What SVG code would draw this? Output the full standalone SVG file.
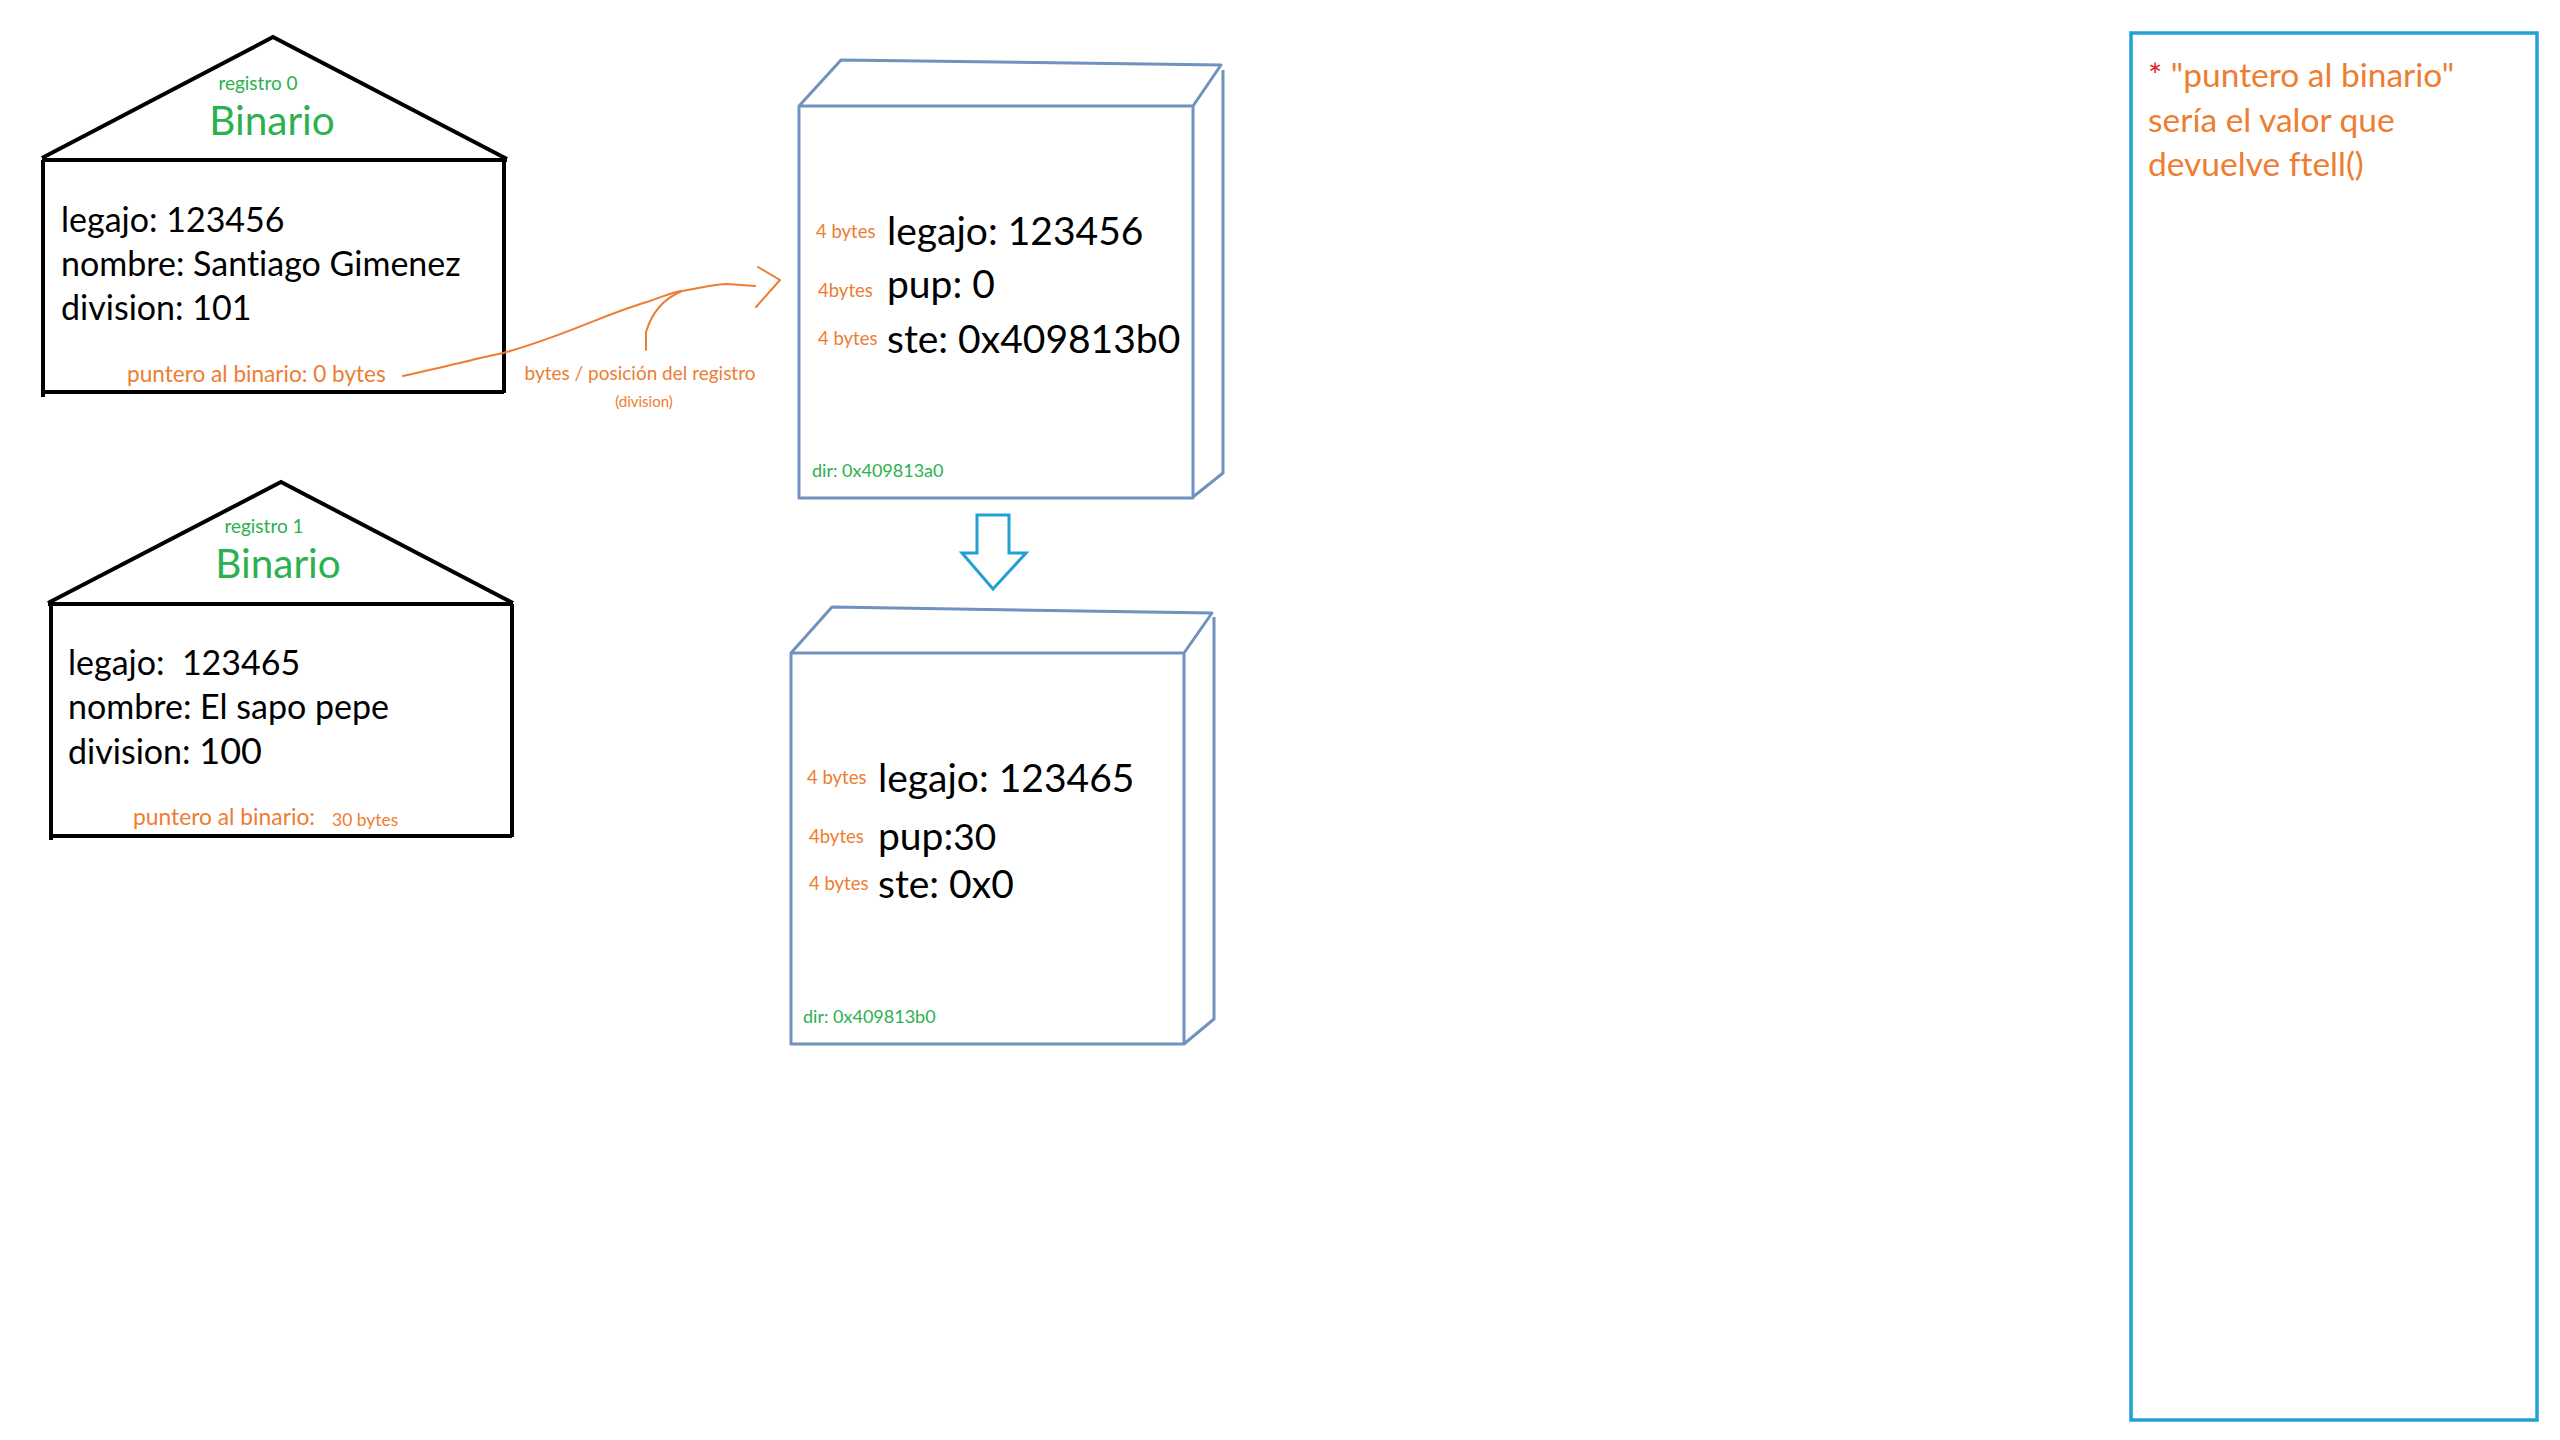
<svg xmlns="http://www.w3.org/2000/svg" width="2560" height="1440" viewBox="0 0 2560 1440">
<style>
  text { font-family: Lato, "Open Sans", "Liberation Sans", sans-serif; font-variant-ligatures: none; }
  .house { fill: none; stroke: #000; stroke-width: 4; stroke-linejoin: miter; }
  .cube { fill: none; stroke: #7092BE; stroke-width: 3; stroke-linejoin: round; }
  .body { font-size: 34px; fill: #000; }
  .big { font-size: 39px; fill: #000; }
  .grn { fill: #2DB04F; }
  .org { fill: #ED7D31; }
  .tag { font-size: 18.5px; fill: #ED7D31; }
  .dir { font-size: 18px; fill: #2DB04F; }
  .pre { white-space: pre; }
  .conn { fill: none; stroke: #ED7D31; stroke-width: 2; stroke-linecap: round; stroke-linejoin: round; }
</style>
<rect width="2560" height="1440" fill="#fff"/>

<g id="registro0">
  <path class="house" d="M42,158 L273,37 L507,159 M42,160 L507,160 M43,160 L43,397 M504,160 L504,393 M43,392 L504,392"/>
  <text class="grn" x="258" y="90" font-size="19" text-anchor="middle">registro 0</text>
  <text class="grn" x="272" y="135" font-size="40.5" text-anchor="middle">Binario</text>
  <text class="body" x="61" y="232">legajo: 123456</text>
  <text class="body" x="61" y="276">nombre: Santiago Gimenez</text>
  <text class="body" x="61" y="320">division: 101</text>
  <text class="org" x="127" y="382" font-size="22.6">puntero al binario: 0 bytes</text>
</g>

<g id="registro1">
  <path class="house" d="M48,603 L281,482 L513,603 M48,604 L513,604 M51,604 L51,840 M512,604 L512,837 M51,836 L512,836"/>
  <text class="grn" x="264" y="533" font-size="19" text-anchor="middle">registro 1</text>
  <text class="grn" x="278" y="578" font-size="40.5" text-anchor="middle">Binario</text>
  <text class="body pre" x="68" y="675">legajo:  123465</text>
  <text class="body" x="68" y="719">nombre: El sapo pepe</text>
  <text class="body" x="68" y="764">division: <tspan font-size="36">100</tspan></text>
  <text class="org" x="133" y="825" font-size="22.8">puntero al binario: <tspan x="332" y="826" font-size="17.5">30 bytes</tspan></text>
</g>

<g id="memoria0">
  <path class="cube" d="M799,106 L1193,106 L1193,498 L799,498 Z M799,106 L841,60 L1221,65 L1193,106 M1223,70 L1223,473 L1193,497"/>
  <text class="tag" x="816" y="238">4 bytes</text>
  <text class="big" x="887" y="245">legajo: 123456</text>
  <text class="tag" x="818" y="297">4bytes</text>
  <text class="big" x="887" y="298">pup: 0</text>
  <text class="tag" x="818" y="345">4 bytes</text>
  <text class="big" x="887" y="353">ste: 0x409813b0</text>
  <text class="dir" x="812" y="477">dir: 0x409813a0</text>
</g>

<g id="flecha">
  <path d="M977,515 L1009,515 L1009,553 L1026,553 L993,589 L962,553 L977,553 Z" fill="none" stroke="#22A0D4" stroke-width="3"/>
</g>

<g id="memoria1">
  <path class="cube" d="M791,653 L1184,653 L1184,1044 L791,1044 Z M791,653 L832,607 L1212,613 L1184,653 M1214,617 L1214,1019 L1184,1044"/>
  <text class="tag" x="807" y="784">4 bytes</text>
  <text class="big" x="878" y="792">legajo: 123465</text>
  <text class="tag" x="809" y="843">4bytes</text>
  <text class="big" x="878" y="850">pup:<tspan font-size="37">30</tspan></text>
  <text class="tag" x="809" y="890">4 bytes</text>
  <text class="big" x="878" y="898">ste: 0x0</text>
  <text class="dir" x="803" y="1023">dir: 0x409813b0</text>
</g>

<g id="nota">
  <rect x="2131" y="33" width="406" height="1387" fill="none" stroke="#22A0D4" stroke-width="3.5"/>
  <text x="2148" y="87" font-size="33.5"><tspan fill="#E0202A">*</tspan><tspan class="org"> "puntero al binario"</tspan></text>
  <text class="org" x="2148" y="132" font-size="33.5">sería el valor que</text>
  <text class="org" x="2148" y="176" font-size="33.5">devuelve ftell()</text>
</g>

<g id="conectores">
  <path class="conn" d="M403,376 C440,368 470,360 503,353 C560,338 610,312 647,302 C665,296 672,292 682,291 C700,288 715,284 727,284 L755,286"/>
  <path class="conn" d="M758,267 L780,280 L756,307"/>
  <path class="conn" d="M682,291 C665,298 652,312 646,332 L646,350"/>
  <text class="org" x="640" y="380" font-size="19" text-anchor="middle">bytes / posición del registro</text>
  <text class="org" x="644" y="407" font-size="15" text-anchor="middle">(division)</text>
</g>
</svg>
